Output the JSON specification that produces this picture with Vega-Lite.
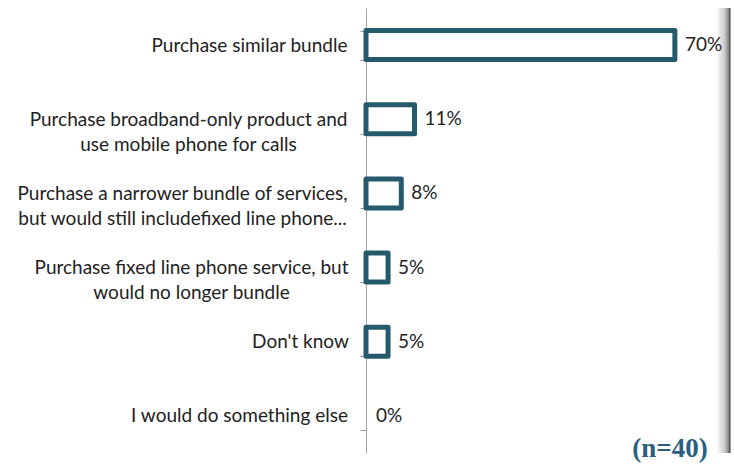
{
  "$schema": "https://vega.github.io/schema/vega-lite/v6.json",
  "width": 353,
  "height": 445,
  "autosize": "none",
  "padding": {"left": 366, "top": 8, "right": 15, "bottom": 12},
  "background": "white",
  "config": {"view": {"stroke": null}},
  "data": {
    "values": [
      {"option": "Purchase similar bundle", "value": 70, "pct": "70%"},
      {"option": "Purchase broadband-only product and|use  mobile phone for calls", "value": 11, "pct": "11%"},
      {"option": "Purchase a narrower bundle of services,|but would still includefixed line phone...", "value": 8, "pct": "8%"},
      {"option": "Purchase fixed line phone service, but|would no longer bundle", "value": 5, "pct": "5%"},
      {"option": "Don't know", "value": 5, "pct": "5%"},
      {"option": "I would do something else", "value": 0, "pct": "0%"}
    ]
  },
  "layer": [
    {
      "mark": {"type": "bar", "fill": "white", "stroke": "#245a6b", "strokeWidth": 5, "strokeJoin": "round"},
      "encoding": {
        "y": {
          "field": "option",
          "type": "nominal",
          "sort": null,
          "scale": {"paddingInner": 0.61, "paddingOuter": 0.305},
          "axis": {
            "title": null,
            "domainColor": "#a6a6a6",
            "ticks": true,
            "tickColor": "#999999",
            "tickWidth": 1,
            "tickSize": 6,
            "tickBand": "extent",
            "labelFont": "Lato",
            "labelFontSize": 19,
            "labelColor": "#222222",
            "labelLineHeight": 25,
            "labelAlign": "center",
            "labelBaseline": "middle",
            "labelLimit": 0,
            "labelExpr": "isString(datum.value) ? split(datum.value, '|') : ''",
            "labelPadding": {
              "condition": [
                {"test": "datum.value === 'Purchase similar bundle'", "value": 111},
                {"test": "datum.value === 'Purchase broadband-only product and|use  mobile phone for calls'", "value": 172},
                {"test": "datum.value === 'Purchase a narrower bundle of services,|but would still includefixed line phone...'", "value": 178},
                {"test": "datum.value === 'Purchase fixed line phone service, but|would no longer bundle'", "value": 169},
                {"test": "datum.value === 'Don\\u0027t know'", "value": 60}
              ],
              "value": 121
            }
          }
        },
        "x": {"field": "value", "type": "quantitative", "scale": {"domain": [0, 80]}, "axis": null},
        "strokeOpacity": {"condition": {"test": "datum.value == 0", "value": 0}, "value": 1}
      }
    },
    {
      "data": {"values": [{"edge": "shadow"}]},
      "mark": {
        "type": "rect",
        "clip": false,
        "fill": {
          "gradient": "linear",
          "x1": 0, "y1": 0, "x2": 1, "y2": 0,
          "stops": [
            {"offset": 0, "color": "#ffffff"},
            {"offset": 0.6, "color": "#c8c8c8"},
            {"offset": 0.85, "color": "#8a8a8a"},
            {"offset": 1, "color": "#333333"}
          ]
        }
      },
      "encoding": {
        "x": {"datum": 79.4},
        "x2": {"datum": 82.6}
      }
    },
    {
      "mark": {"type": "text", "align": "left", "baseline": "middle", "dx": 10, "font": "Lato", "fontSize": 19, "color": "#222222"},
      "encoding": {
        "y": {"field": "option", "type": "nominal", "sort": null},
        "x": {"field": "value", "type": "quantitative"},
        "text": {"field": "pct"}
      }
    },
    {
      "data": {"values": [{"note": "(n=40)"}]},
      "mark": {"type": "text", "align": "center", "baseline": "middle", "dy": 33, "font": "Liberation Serif", "fontWeight": "bold", "fontSize": 27, "color": "#2a5f80"},
      "encoding": {
        "y": {"datum": "I would do something else"},
        "x": {"datum": 68.9},
        "text": {"field": "note"}
      }
    }
  ]
}
